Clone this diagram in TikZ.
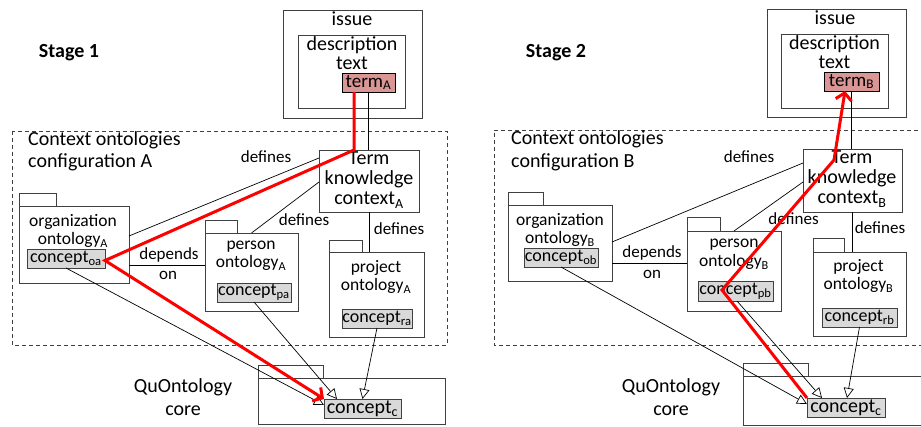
\documentclass[tikz,border=0pt]{standalone}
\usepackage{fontspec}
\setmainfont{Carlito}
\usetikzlibrary{arrows.meta}
\definecolor{bord}{HTML}{404040}
\definecolor{cgray}{HTML}{D9D9D9}
\definecolor{tfill}{HTML}{D99694}
\definecolor{redl}{HTML}{FF0000}
\newcommand\bx[7][]{\node[box,#1,minimum width={#5-#3},minimum height={#6-#4}] (#2) at ({(#3+#5)/2},{(#4+#6)/2}) {#7};}
\begin{document}
\begin{tikzpicture}[x=1pt,y=-1pt,
  box/.style={draw=bord,line width=0.9pt,inner sep=0pt,outer sep=0pt},
  concept/.style={fill=cgray,font=\fontsize{18}{18}\selectfont},
  conceptc/.style={fill=cgray,font=\fontsize{20}{20}\selectfont},
  termbox/.style={fill=tfill,draw=black,font=\fontsize{19}{19}\selectfont},
  t20/.style={inner sep=0pt,anchor=base,font=\fontsize{20}{20}\selectfont},
  t18/.style={inner sep=0pt,anchor=base,font=\fontsize{17.5}{17.5}\selectfont},
  lbl/.style={inner sep=0pt,anchor=base,font=\fontsize{17}{17}\selectfont},
  stg/.style={inner sep=0pt,anchor=base,font=\fontsize{20}{20}\selectfont\bfseries},
  link/.style={line width=0.7pt,draw=black},
  inh/.style={link,-{Triangle[open,length=10pt,width=10pt,fill=white]}},
  hot/.style={draw=redl,line width=3pt,line join=miter,-{Straight Barb[length=7pt,width=16pt]}},
  region/.style={draw=bord,line width=0.8pt,dash pattern=on 4pt off 3pt}]
\fill[white] (0,0) rectangle (921,427);
\useasboundingbox (0,0) rectangle (921,427);
\clip (0,0) rectangle (921,427);

% ================= Stage 1 =================
\draw[region] (12,131) rectangle (447,345);
\node[stg] (s1) at (69,58) {Stage 1};
\bx{iss1}{283}{10}{422}{118}{}
\node[t20] (iss1t) at (352,26) {issue};
\bx{dsc1}{298}{35}{405}{108}{}
\node[t20] (dsc1a) at (352,50.5) {description};
\node[t20] (dsc1b) at (352,70) {text};
\bx[termbox]{tA}{342}{73}{395}{92}{term\textsubscript{A}}

\bx{tk1}{319}{150}{419}{212}{}
\node[t20] (tk1a) at (369,165) {Term};
\node[t20] (tk1b) at (369,185) {knowledge};
\node[t20] (tk1c) at (369,205) {context\textsubscript{A}};

\node[t20,anchor=base west] (ctx1a) at (28,146) {Context ontologies};
\node[t20,anchor=base west] (ctx1b) at (28,168) {configuration A};

\bx{org1tab}{19}{193}{56}{206}{}
\bx{org1}{19}{206}{129}{283}{}
\node[t18] (org1a) at (73,227) {organization};
\node[t18] (org1b) at (73,245) {ontology\textsubscript{A}};
\bx[concept]{coa}{27}{249}{105}{268}{concept\textsubscript{oa}}

\bx{per1tab}{205}{220}{237}{233}{}
\bx{per1}{205}{233}{298}{311}{}
\node[t18] (per1a) at (251,250) {person};
\node[t18] (per1b) at (251,268) {ontology\textsubscript{A}};
\bx[concept]{cpa}{217}{283}{291}{302}{concept\textsubscript{pa}}

\bx{prj1tab}{329}{240}{362}{252}{}
\bx{prj1}{329}{252}{424}{337}{}
\node[t18] (prj1a) at (376,273) {project};
\node[t18] (prj1b) at (376,291) {ontology\textsubscript{A}};
\bx[concept]{cra}{342}{309}{412}{328}{concept\textsubscript{ra}}

\bx{core1tab}{258}{365}{323}{378}{}
\bx{core1}{258}{378}{445}{424}{}
\node[t20] (q1a) at (183,393) {QuOntology};
\node[t20] (q1b) at (183,416) {core};
\bx[conceptc]{cc1}{324}{399}{401}{418}{concept\textsubscript{c}}

\node[lbl] (d1a) at (266,163) {defines};
\node[lbl] (d1b) at (304,226) {defines};
\node[lbl] (d1c) at (399,235) {defines};
\node[lbl] (dep1a) at (169,260) {depends};
\node[lbl] (dep1b) at (168,280) {on};

\draw[link] (tA.south) -- (tA.south |- tk1.north);
\draw[link] ([yshift=23pt]tk1.west) -- ([yshift=8.5pt]org1.east);
\draw[link] ([yshift=-1pt]tk1.west) -- (per1.north);
\draw[link] (tk1.south) -- (tk1.south |- prj1.north);
\draw[link] ([yshift=-20.5pt]org1.east) -- ([yshift=-20.5pt]org1.east -| per1.west);
\draw[inh] (coa.south) -- ([yshift=3.5pt]cc1.west);
\draw[inh] (cpa.south) -- ([xshift=-25.5pt]cc1.north);
\draw[inh] (cra.south) -- (cc1.north);

\coordinate (r1a) at ([xshift=-14.5pt]tA.south);
\coordinate (r1b) at (r1a |- tk1.north);
\coordinate (r1c) at ([yshift=-2pt]coa.east);
\draw[hot] (r1a) -- (r1b) -- (r1c) -- (cc1.north west);

% ================= Stage 2 =================
\draw[region] (925,130) -- (494,130) -- (494,345) -- (925,345);
\node[stg] (s2) at (556,58) {Stage 2};
\bx{iss2}{767}{9}{906}{117}{}
\node[t20] (iss2t) at (835,25) {issue};
\bx{dsc2}{781}{34}{888}{108}{}
\node[t20] (dsc2a) at (834.5,49.5) {description};
\node[t20] (dsc2b) at (834.5,69) {text};
\bx[termbox]{tB}{824}{72}{879}{91}{term\textsubscript{B}}

\bx{tk2}{803}{149}{902}{212}{}
\node[t20] (tk2a) at (852,164) {Term};
\node[t20] (tk2b) at (852,184) {knowledge};
\node[t20] (tk2c) at (852,204) {context\textsubscript{B}};

\node[t20,anchor=base west] (ctx2a) at (511,145) {Context ontologies};
\node[t20,anchor=base west] (ctx2b) at (511,168) {configuration B};

\bx{org2tab}{508}{192}{543}{205}{}
\bx{org2}{508}{205}{612}{281}{}
\node[t18] (org2a) at (560,226) {organization};
\node[t18] (org2b) at (560,244) {ontology\textsubscript{B}};
\bx[concept]{cob}{524}{248}{598}{267}{concept\textsubscript{ob}}

\bx{per2tab}{687}{217}{720}{231}{}
\bx{per2}{687}{231}{781}{311}{}
\node[t18] (per2a) at (734,248) {person};
\node[t18] (per2b) at (734,267) {ontology\textsubscript{B}};
\bx[concept]{cpb}{698}{281}{773}{301}{concept\textsubscript{pb}}

\bx{prj2tab}{813}{238}{844}{252}{}
\bx{prj2}{813}{252}{906}{336}{}
\node[t18] (prj2a) at (858.5,272) {project};
\node[t18] (prj2b) at (858.5,290) {ontology\textsubscript{B}};
\bx[concept]{crb}{822}{308}{897}{327}{concept\textsubscript{rb}}

\bx{core2tab}{743}{363}{808}{376}{}
\bx{core2}{743}{376}{924}{425}{}
\node[t20] (q2a) at (671,393) {QuOntology};
\node[t20] (q2b) at (671,416) {core};
\bx[conceptc]{cc2}{807}{398}{885}{417}{concept\textsubscript{c}}

\node[lbl] (d2a) at (749,163) {defines};
\node[lbl] (d2b) at (793.5,225) {defines};
\node[lbl] (d2c) at (880,234) {defines};
\node[lbl] (dep2a) at (652,258) {depends};
\node[lbl] (dep2b) at (652,279) {on};

\draw[link] (tB.south) -- (tB.south |- tk2.north);
\draw[link] ([yshift=17.5pt]tk2.west) -- ([yshift=1pt]org2.east);
\draw[link] ([yshift=-1.5pt]tk2.west) -- (per2.north);
\draw[link] (tk2.south) -- (tk2.south |- prj2.north);
\draw[link] ([yshift=-20pt]org2.east) -- ([yshift=-20pt]org2.east -| per2.west);
\draw[inh] (cob.south) -- ([yshift=3.5pt]cc2.west);
\draw[inh] ([xshift=1.5pt]cpb.south) -- ([xshift=-24pt]cc2.north);
\draw[inh] (crb.south) -- ([xshift=1pt]cc2.north);

\coordinate (r2b) at (722,290);
\coordinate (r2c) at (834,160);
\draw[hot] (cc2.north west) -- (r2b) -- (r2c) -- ([xshift=-6.5pt]tB.south);
\end{tikzpicture}
\end{document}
